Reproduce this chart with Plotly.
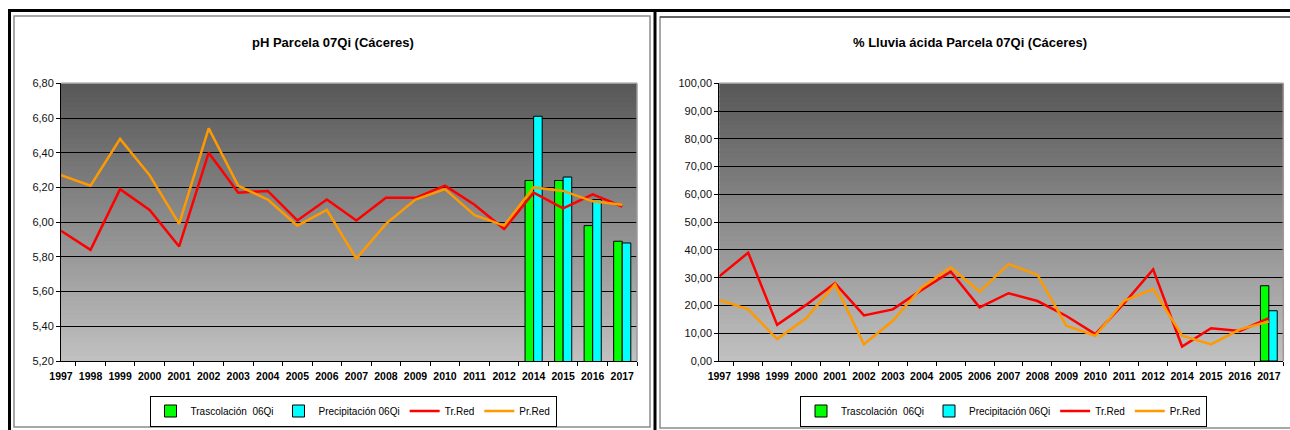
"""
pH and acid rain charts for plot 07Qi (Caceres), Plotly version
"""
import plotly.graph_objects as go
from plotly.subplots import make_subplots

W, H = 1290, 430

YEARS = ['1997', '1998', '1999', '2000', '2001', '2002', '2003', '2004', '2005', '2006',
         '2007', '2008', '2009', '2010', '2011', '2012', '2014', '2015', '2016', '2017']
BAR_YEARS_PH = ['2014', '2015', '2016', '2017']
BAR_YEARS_PCT = ['2017']

# pH chart
PH_TR_RED = [5.95, 5.84, 6.19, 6.07, 5.86, 6.40, 6.17, 6.18, 6.01, 6.13,
             6.01, 6.14, 6.14, 6.21, 6.10, 5.96, 6.17, 6.08, 6.16, 6.09]
PH_PR_RED = [6.27, 6.21, 6.48, 6.27, 5.99, 6.54, 6.21, 6.13, 5.98, 6.07,
             5.79, 5.99, 6.13, 6.19, 6.04, 5.98, 6.20, 6.18, 6.12, 6.10]
PH_TRASC = [6.24, 6.24, 5.98, 5.89]
PH_PRECIP = [6.61, 6.26, 6.13, 5.88]

# % acid rain chart
PCT_TR_RED = [30.5, 39.0, 13.0, 20.2, 28.0, 16.4, 18.6, 25.6, 32.2, 19.3,
              24.4, 21.6, 16.2, 9.7, 20.8, 33.0, 5.2, 11.8, 10.8, 15.4]
PCT_PR_RED = [22.0, 18.6, 7.9, 15.4, 27.6, 6.0, 14.5, 26.5, 33.7, 25.0,
              34.9, 31.0, 12.7, 9.1, 21.7, 25.9, 9.1, 6.0, 11.4, 14.2]
PCT_TRASC = [27.1]
PCT_PRECIP = [18.1]

TITLES = ['pH Parcela 07Qi (Cáceres)', '% Lluvia ácida Parcela 07Qi (Cáceres)']
FONT = 'Liberation Sans, Arial, sans-serif'


def px_x(x):
    return x / W


def px_y(y):
    return 1 - y / H


def gradient_shapes(xref, yref, n=60, top=(0x58, 0x58, 0x58), bottom=(0xc0, 0xc0, 0xc0)):
    """Vertical grey gradient behind the plot area, built from thin stripes."""
    shapes = []
    for i in range(n):
        t = i / (n - 1)
        c = [round(bottom[k] + (top[k] - bottom[k]) * t) for k in range(3)]
        shapes.append(dict(
            type='rect', xref=xref, yref=yref, layer='below',
            x0=0, x1=1, y0=i / n, y1=min(1, (i + 1) / n + 0.004),
            fillcolor='rgb(%d,%d,%d)' % tuple(c), line=dict(width=0)
        ))
    return shapes


def add_chart(fig, col, tr_red, pr_red, bar_years, trasc, precip, legend):
    fig.add_trace(go.Bar(
        x=bar_years, y=trasc, name='Trascolación  06Qi',
        marker=dict(color='#00ff00', line=dict(color='black', width=1)),
        legend=legend
    ), row=1, col=col)
    fig.add_trace(go.Bar(
        x=bar_years, y=precip, name='Precipitación 06Qi',
        marker=dict(color='#00ffff', line=dict(color='black', width=1)),
        legend=legend
    ), row=1, col=col)
    fig.add_trace(go.Scatter(
        x=YEARS, y=tr_red, name='Tr.Red', mode='lines',
        line=dict(color='#ff0000', width=2.5), legend=legend
    ), row=1, col=col)
    fig.add_trace(go.Scatter(
        x=YEARS, y=pr_red, name='Pr.Red', mode='lines',
        line=dict(color='#ff9900', width=2.5), legend=legend
    ), row=1, col=col)


fig = make_subplots(rows=1, cols=2)
add_chart(fig, 1, PH_TR_RED, PH_PR_RED, BAR_YEARS_PH, PH_TRASC, PH_PRECIP, 'legend')
add_chart(fig, 2, PCT_TR_RED, PCT_PR_RED, BAR_YEARS_PCT, PCT_TRASC, PCT_PRECIP, 'legend2')

y_top, y_bot = px_y(361), px_y(83.3)
fig.update_xaxes(
    type='category', categoryorder='array', categoryarray=YEARS,
    showline=True, linecolor='black', linewidth=1, automargin=False,
    ticks='outside', tickson='boundaries', ticklen=4, tickcolor='black',
    tickangle=0, showgrid=False, ticklabelstandoff=5,
    tickfont=dict(family=FONT, size=10.5, color='black', weight='bold'),
)
fig.update_yaxes(
    showline=True, linecolor='black', linewidth=1, automargin=False,
    ticks='outside', ticklen=4, tickcolor='black',
    gridcolor='#000000', gridwidth=1, zeroline=False,
    tickformat='.2f', tickfont=dict(family=FONT, size=11, color='#111111'),
)
fig.update_xaxes(domain=[px_x(61), px_x(637)], row=1, col=1)
fig.update_xaxes(domain=[px_x(719.3), px_x(1283.3)], row=1, col=2)
fig.update_yaxes(domain=[y_top, y_bot], range=[5.2, 6.8], dtick=0.2, row=1, col=1)
fig.update_yaxes(domain=[y_top, y_bot], range=[0, 100], dtick=10, row=1, col=2)

shapes = gradient_shapes('x domain', 'y domain') + gradient_shapes('x2 domain', 'y2 domain')
# plot area borders (grey top/right)
for xr, yr in [('x domain', 'y domain'), ('x2 domain', 'y2 domain')]:
    shapes.append(dict(type='line', xref=xr, yref=yr, x0=0, x1=1, y0=1, y1=1,
                       line=dict(color='#9a9a9a', width=1.5), layer='above'))
    shapes.append(dict(type='line', xref=xr, yref=yr, x0=1, x1=1, y0=0, y1=1,
                       line=dict(color='#9a9a9a', width=1.5), layer='above'))
# outer frames
shapes += [
    dict(type='rect', xref='paper', yref='paper', x0=px_x(9.5), x1=px_x(1300),
         y0=px_y(445), y1=px_y(10.5), line=dict(color='black', width=3)),
    dict(type='line', xref='paper', yref='paper', x0=px_x(655), x1=px_x(655),
         y0=px_y(445), y1=px_y(10.5), line=dict(color='black', width=3)),
    dict(type='rect', xref='paper', yref='paper', x0=px_x(14), x1=px_x(650),
         y0=px_y(427), y1=px_y(16), line=dict(color='#8c8c8c', width=1.5)),
    dict(type='rect', xref='paper', yref='paper', x0=px_x(660), x1=px_x(1300),
         y0=px_y(428), y1=px_y(17), line=dict(color='#8c8c8c', width=1.5)),
    dict(type='line', xref='paper', yref='paper', x0=px_x(660), x1=px_x(1300),
         y0=px_y(17), y1=px_y(17), line=dict(color='#202020', width=1)),
]

legend_style = dict(
    orientation='h', xanchor='center', yanchor='middle', y=px_y(411),
    bgcolor='white', bordercolor='black', borderwidth=1,
    font=dict(family=FONT, size=10, color='black'),
    itemwidth=30, tracegroupgap=0,
)

title_font = dict(family=FONT, size=13, color='black', weight='bold')

fig.update_layout(
    width=W, height=H,
    margin=dict(l=0, r=0, t=0, b=0),
    paper_bgcolor='white', plot_bgcolor='#c0c0c0',
    separators=',.',
    barmode='group', bargap=0.42, bargroupgap=0,
    shapes=shapes,
    showlegend=True,
    legend=dict(x=px_x(353), **legend_style),
    legend2=dict(x=px_x(1003.5), **legend_style),
    annotations=[
        dict(text=TITLES[0], x=px_x(333), y=px_y(42), xref='paper', yref='paper',
             xanchor='center', yanchor='middle', showarrow=False, font=title_font),
        dict(text=TITLES[1], x=px_x(970), y=px_y(42), xref='paper', yref='paper',
             xanchor='center', yanchor='middle', showarrow=False, font=title_font),
    ],
)

# page margin off so the figure sits at the top-left corner of the window
fig.write_html('out.html', config={'displayModeBar': False},
               post_script="document.body.style.margin='0';")
